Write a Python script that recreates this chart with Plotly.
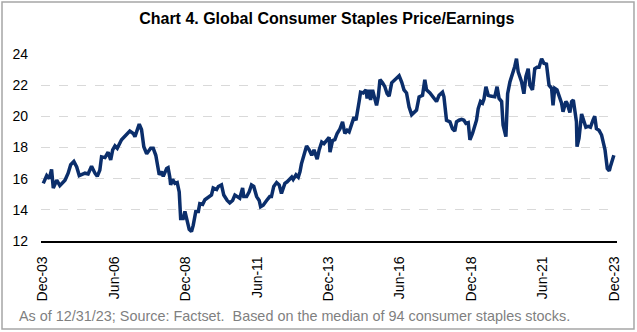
import plotly.graph_objects as go

# Decimal-year time stamps and P/E values
years = [2003.93, 2004.05, 2004.14, 2004.22, 2004.28, 2004.40, 2004.51, 2004.69, 2004.80, 2004.89,
         2005.00, 2005.10, 2005.19, 2005.39, 2005.50, 2005.62, 2005.74, 2005.82, 2005.91, 2005.97,
         2006.09, 2006.20, 2006.29, 2006.36, 2006.44, 2006.52, 2006.67, 2006.85, 2006.96, 2007.08,
         2007.14, 2007.29, 2007.37, 2007.45, 2007.55, 2007.69, 2007.78, 2007.87, 2007.95, 2007.99,
         2008.07, 2008.13, 2008.25, 2008.30, 2008.36, 2008.39, 2008.46, 2008.54, 2008.62, 2008.69,
         2008.74, 2008.83, 2008.89, 2008.95, 2009.04, 2009.12, 2009.18, 2009.27, 2009.36, 2009.41,
         2009.51, 2009.59, 2009.70, 2009.82, 2009.88, 2010.00, 2010.06, 2010.17, 2010.25, 2010.37,
         2010.46, 2010.56, 2010.64, 2010.75, 2010.81, 2010.91, 2010.95, 2011.05, 2011.14, 2011.22,
         2011.30, 2011.40, 2011.49, 2011.54, 2011.63, 2011.75, 2011.86, 2011.92, 2012.00, 2012.10,
         2012.19, 2012.27, 2012.39, 2012.47, 2012.54, 2012.63, 2012.68, 2012.78, 2012.86, 2012.92,
         2012.97, 2013.06, 2013.15, 2013.24, 2013.33, 2013.41, 2013.48, 2013.52, 2013.59, 2013.68,
         2013.76, 2013.85, 2013.94, 2013.97, 2014.06, 2014.14, 2014.22, 2014.32, 2014.41, 2014.49,
         2014.57, 2014.64, 2014.73, 2014.81, 2014.88, 2014.92, 2014.99, 2015.04, 2015.13, 2015.23,
         2015.27, 2015.34, 2015.39, 2015.46, 2015.54, 2015.60, 2015.66, 2015.72, 2015.81, 2015.89,
         2015.97, 2016.04, 2016.13, 2016.24, 2016.32, 2016.39, 2016.48, 2016.56, 2016.65, 2016.74,
         2016.83, 2016.91, 2017.00, 2017.09, 2017.21, 2017.29, 2017.35, 2017.47, 2017.58, 2017.70,
         2017.79, 2017.91, 2017.96, 2018.05, 2018.17, 2018.26, 2018.34, 2018.40, 2018.49, 2018.58,
         2018.66, 2018.73, 2018.81, 2018.87, 2018.96, 2019.05, 2019.10, 2019.16, 2019.24, 2019.31,
         2019.36, 2019.43, 2019.51, 2019.59, 2019.68, 2019.74, 2019.82, 2019.89, 2019.98, 2020.03,
         2020.13, 2020.19, 2020.27, 2020.36, 2020.44, 2020.50, 2020.56, 2020.68, 2020.76, 2020.83,
         2020.91, 2020.97, 2021.06, 2021.14, 2021.22, 2021.29, 2021.38, 2021.46, 2021.55, 2021.64,
         2021.73, 2021.78, 2021.84, 2021.92, 2021.99, 2022.08, 2022.13, 2022.23, 2022.27, 2022.37,
         2022.43, 2022.49, 2022.55, 2022.60, 2022.62, 2022.69, 2022.78, 2022.84, 2022.93, 2023.01,
         2023.09, 2023.18, 2023.24, 2023.30, 2023.39, 2023.48, 2023.60, 2023.68, 2023.75, 2023.80,
         2023.91]

pe = [15.7, 16.2, 16.0, 16.6, 15.4, 15.9, 15.55, 15.9, 16.35, 16.9,
      17.1, 16.75, 16.2, 16.35, 16.3, 16.8, 16.35, 16.15, 16.55, 17.4,
      17.35, 17.7, 17.2, 17.85, 18.1, 17.95, 18.5, 18.85, 19.05, 18.9,
      18.7, 19.5, 19.15, 18.05, 17.6, 17.95, 17.95, 17.5, 16.65, 16.25,
      16.45, 16.15, 16.65, 16.7, 16.1, 15.6, 15.95, 15.7, 15.75, 15.15,
      13.45, 13.45, 13.9, 13.45, 12.75, 12.6, 13.0, 13.9, 13.9, 14.4,
      14.35, 14.65, 14.8, 14.95, 15.4, 15.3, 15.5, 15.6, 14.95, 14.6,
      14.45, 14.6, 14.95, 14.85, 14.75, 15.4, 14.85, 14.85, 15.15, 15.6,
      15.5, 14.85, 14.6, 14.2, 14.3, 14.6, 14.85, 14.85, 15.5, 15.75,
      15.6, 15.05, 15.7, 15.8, 15.95, 16.1, 15.95, 16.25, 16.1, 16.45,
      16.95, 17.6, 18.1, 17.85, 17.5, 17.85, 17.5, 17.25, 17.85, 18.35,
      18.25, 18.45, 18.65, 17.7, 18.45, 18.5, 18.9, 19.2, 19.65, 18.9,
      19.1, 19.0, 19.45, 19.95, 19.75, 20.1, 20.95, 21.55, 21.5, 21.7,
      21.15, 21.7, 21.05, 21.7, 21.15, 20.7, 21.25, 22.35, 22.15, 21.9,
      21.45, 21.3, 22.15, 22.35, 22.5, 22.6, 22.2, 21.7, 21.5, 20.6,
      20.1, 20.25, 20.4, 21.25, 21.35, 22.35, 21.7, 21.5, 21.25, 20.95,
      21.35, 21.55, 21.25, 19.75, 19.65, 19.2, 19.05, 19.65, 19.75, 19.8,
      19.75, 19.55, 19.6, 18.5, 18.9, 19.35, 19.75, 20.5, 20.95, 20.85,
      21.1, 21.9, 21.35, 21.3, 21.3, 21.25, 21.9, 21.15, 20.95, 19.45,
      18.7, 21.45, 22.2, 22.65, 23.2, 23.7, 22.85, 22.2, 21.45, 22.55,
      23.05, 22.0, 21.7, 23.05, 23.15, 23.15, 23.7, 23.4, 23.35, 22.0,
      21.8, 20.7, 21.8, 21.7, 21.35, 20.85, 20.3, 20.95, 20.85, 20.25,
      20.95, 21.05, 20.3, 19.65, 18.05, 18.6, 20.15, 19.85, 19.3, 19.35,
      19.3, 19.75, 20.0, 19.2, 19.1, 18.8, 17.85, 16.65, 16.5, 16.85,
      17.5]

tick_years = [2003.917, 2006.417, 2008.917, 2011.417, 2013.917, 2016.417, 2018.917, 2021.417, 2023.917]
tick_labels = ["Dec-03", "Jun-06", "Dec-08", "Jun-11", "Dec-13", "Jun-16", "Dec-18", "Jun-21", "Dec-23"]
y_ticks = [12, 14, 16, 18, 20, 22, 24]

title_text = "<b>Chart 4. Global Consumer Staples Price/Earnings</b>"
note_text = "As of 12/31/23; Source: Factset.  Based on the median of 94 consumer staples stocks."

fig = go.Figure()
fig.add_trace(go.Scatter(x=years, y=pe, mode="lines",
                         line=dict(color="#0B2E6B", width=3.5), hoverinfo="skip"))

fig.update_layout(
    width=637, height=332,
    margin=dict(l=41, r=20, t=54, b=91),
    paper_bgcolor="white", plot_bgcolor="white",
    showlegend=False,
    font=dict(family="Liberation Sans, Arial, sans-serif", size=14, color="#000000"),
    title=dict(text=title_text, x=0.513, xanchor="center", y=0.946, yanchor="middle",
               font=dict(family="Liberation Sans Narrow, Arial Narrow, Liberation Sans, Arial",
                         size=16, color="#000000")),
)

fig.update_xaxes(range=[2003.85, 2024.02], tickmode="array", tickvals=tick_years,
                 ticktext=tick_labels, tickangle=-90, showgrid=False, zeroline=False,
                 showline=True, linecolor="#000000", linewidth=1.5, ticks="",
                 ticklabelstandoff=8, tickfont=dict(size=14))
fig.update_yaxes(range=[12, 24], tickmode="array", tickvals=y_ticks, showgrid=True,
                 gridcolor="#d9d9d9", griddash="dash", gridwidth=1, zeroline=False,
                 showline=False, ticks="", ticklabelstandoff=12, tickfont=dict(size=14))

fig.add_annotation(text=note_text, xref="paper", yref="paper", x=-0.0417, y=-0.401,
                   xanchor="left", yanchor="middle", showarrow=False,
                   font=dict(size=14.4, color="#7f7f7f"))

fig.add_shape(type="rect", xref="paper", yref="paper", x0=-0.0677, x1=1.0295,
              y0=-0.47, y1=1.278, line=dict(color="#a6a6a6", width=1.5), fillcolor="rgba(0,0,0,0)",
              layer="below")

fig.write_html("out.html")
